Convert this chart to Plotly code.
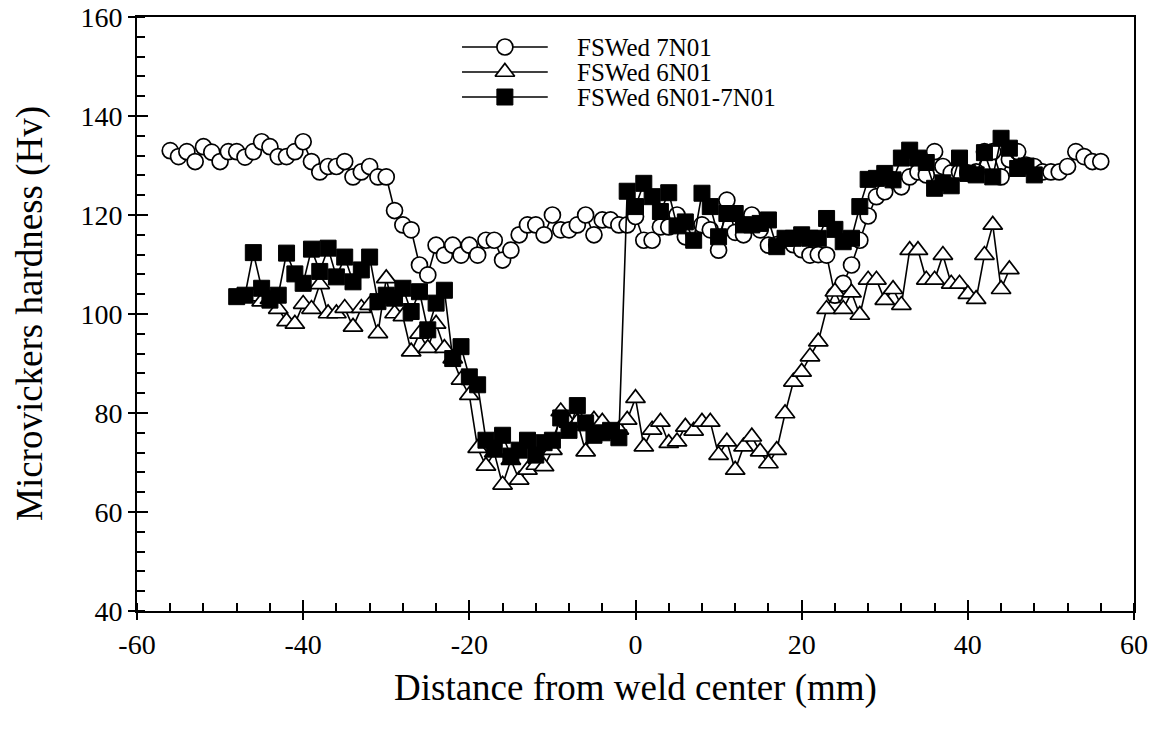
import plotly.graph_objects as go

# Hardness profiles across the weld (distance in mm, hardness in Hv)
x_7n01 = list(range(-56, 57))
hv_7n01 = [
    133.0, 131.8, 132.8, 130.8, 133.8, 132.7, 130.8, 132.8, 132.8, 131.7,
    132.8, 134.8, 133.8, 131.8, 131.8, 132.8, 134.8, 130.8, 128.7, 129.8,
    129.8, 130.8, 127.7, 128.7, 129.8, 127.7, 127.7, 120.9, 118.0, 117.0,
    109.9, 107.9, 113.9, 111.9, 113.9, 111.9, 113.9, 111.9, 114.9, 114.9,
    110.9, 112.9, 116.0, 118.0, 118.0, 116.0, 120.0, 117.0, 117.0, 118.0,
    120.0, 116.0, 119.0, 119.0, 118.0, 118.0, 119.7, 114.9, 114.9, 117.6,
    117.6, 120.0, 115.6, 116.5, 118.0, 117.0, 112.9, 123.0, 116.5, 116.0,
    120.0, 117.0, 113.9, 114.0, 115.0, 114.0, 113.0, 111.9, 112.0, 111.9,
    103.8, 106.2, 109.9, 114.9, 119.8, 123.7, 124.7, 127.1, 125.7, 127.7,
    128.7, 128.1, 132.8, 129.8, 128.5, 128.7, 128.5, 128.7, 132.8, 132.8,
    127.7, 131.2, 132.8, 130.1, 129.8, 128.7, 128.7, 128.7, 129.8, 132.8,
    131.8, 130.8, 130.8,
]

x_6n01 = list(range(-46, 46))
hv_6n01 = [
    103.5, 102.5, 103.0, 101.0, 98.5, 98.0, 102.0, 101.0, 106.0, 100.1,
    100.1, 101.2, 97.4, 101.2, 101.8, 96.1, 107.2, 100.1, 99.5, 92.4,
    96.0, 93.1, 98.0, 93.1, 91.0, 86.7, 83.6, 72.9, 69.3, 72.0,
    65.5, 70.5, 66.5, 68.5, 69.5, 69.2, 72.5, 80.3, 78.0, 78.2,
    72.2, 78.6, 78.2, 76.0, 76.6, 78.6, 83.0, 73.2, 76.6, 78.2,
    73.9, 74.2, 77.2, 76.4, 78.2, 78.2, 71.5, 74.2, 68.5, 73.2,
    75.2, 72.2, 69.8, 72.5, 79.9, 86.3, 88.3, 91.4, 94.4, 101.0,
    104.5, 101.0, 104.3, 99.8, 106.9, 106.9, 102.8, 105.0, 101.8, 112.9,
    112.9, 106.9, 106.9, 111.9, 106.1, 106.1, 104.0, 103.0, 111.9, 118.0,
    105.0, 109.0,
]

x_dissimilar = list(range(-48, 49))
hv_dissimilar = [
    103.5, 103.8, 112.4, 105.2, 102.8, 103.8, 112.3, 108.1, 106.2, 113.1,
    108.6, 113.3, 107.5, 111.5, 106.5, 108.9, 111.5, 102.5, 103.8, 103.2,
    105.2, 100.5, 104.5, 96.8, 102.2, 104.8, 91.0, 93.4, 87.3, 85.7,
    74.5, 72.9, 75.5, 71.3, 72.5, 74.5, 71.5, 74.0, 74.5, 79.0,
    76.5, 81.5, 78.0, 75.5, 76.0, 76.5, 75.0, 124.8, 121.7, 126.4,
    123.7, 120.7, 124.5, 117.8, 118.6, 114.9, 124.4, 121.7, 115.6, 120.3,
    120.3, 118.0, 118.0, 118.3, 119.0, 113.6, 115.3, 115.3, 116.0, 115.3,
    115.3, 119.3, 117.1, 114.6, 115.3, 121.7, 127.2, 127.4, 128.4, 127.1,
    131.5, 133.1, 131.5, 130.6, 125.4, 126.5, 125.9, 131.5, 128.4, 128.1,
    132.6, 127.7, 135.5, 133.5, 129.4, 129.9, 128.1,
]

series_names = ["FSWed 7N01", "FSWed 6N01", "FSWed 6N01-7N01"]
x_ticks = [-60, -40, -20, 0, 20, 40, 60]
y_ticks = [40, 60, 80, 100, 120, 140, 160]

FONT = "Liberation Serif, Times New Roman, serif"
LINE = dict(color="black", width=1.6)
styles = [
    dict(symbol="circle", size=16, color="white", line=dict(color="black", width=1.7)),
    dict(symbol="triangle-up", size=17, color="white", line=dict(color="black", width=1.7)),
    dict(symbol="square", size=16, color="black", line=dict(color="black", width=1)),
]

fig = go.Figure()
for xs, ys, name, mk in zip(
    [x_7n01, x_6n01, x_dissimilar],
    [hv_7n01, hv_6n01, hv_dissimilar],
    series_names,
    styles,
):
    fig.add_trace(go.Scatter(x=xs, y=ys, mode="lines+markers", name=name,
                             line=LINE, marker=mk, showlegend=False))

# Hand-drawn legend on an overlay axis spanning the plot area (0..1)
leg_rows = [0.9495, 0.9074, 0.8653]
for row, name, mk in zip(leg_rows, series_names, styles):
    fig.add_trace(go.Scatter(x=[0.326, 0.412], y=[row, row], mode="lines",
                             line=LINE, xaxis="x2", yaxis="y2",
                             showlegend=False, hoverinfo="skip"))
    fig.add_trace(go.Scatter(x=[0.369], y=[row], mode="markers", marker=mk,
                             xaxis="x2", yaxis="y2", showlegend=False,
                             hoverinfo="skip"))
    fig.add_annotation(x=0.439, y=row, xref="x2", yref="y2", text=name,
                       showarrow=False, xanchor="left", yanchor="middle",
                       font=dict(family=FONT, size=25, color="black"))

# Axis titles
fig.add_annotation(x=0.4995, y=-0.1296, xref="paper", yref="paper",
                   text="Distance from weld center (mm)", showarrow=False,
                   xanchor="center", yanchor="middle",
                   font=dict(family=FONT, size=37, color="black"))
fig.add_annotation(x=-0.1073, y=0.5, xref="paper", yref="paper",
                   text="Microvickers hardness (Hv)", showarrow=False,
                   textangle=-90, xanchor="center", yanchor="middle",
                   font=dict(family=FONT, size=37, color="black"))

axis_common = dict(
    showgrid=False, zeroline=False, showline=True, linecolor="black",
    linewidth=1.8, mirror=True, ticks="outside", ticklen=7, tickwidth=1.5,
    tickcolor="black", automargin=False,
    tickfont=dict(family=FONT, size=28, color="black"),
)

fig.update_layout(
    width=1161, height=729,
    margin=dict(l=137, r=27, t=17, b=118),
    paper_bgcolor="white", plot_bgcolor="white",
    xaxis=dict(
        range=[-60, 60], tickvals=x_ticks, ticktext=[str(v) for v in x_ticks],
        minor=dict(dtick=4, ticks="inside", ticklen=8, tickwidth=1.5,
                   tickcolor="black"),
        **axis_common,
    ),
    yaxis=dict(
        range=[40, 160], tickvals=y_ticks, ticktext=[str(v) for v in y_ticks],
        minor=dict(dtick=4, ticks="inside", ticklen=8, tickwidth=1.5,
                   tickcolor="black"),
        **axis_common,
    ),
    # inner halves of the major ticks
    xaxis3=dict(overlaying="x", matches="x", range=[-60, 60], tickvals=x_ticks,
                ticks="inside", ticklen=11, tickwidth=1.5, tickcolor="black",
                showticklabels=False, showgrid=False, zeroline=False,
                showline=False, side="bottom", automargin=False),
    yaxis3=dict(overlaying="y", matches="y", range=[40, 160], tickvals=y_ticks,
                ticks="inside", ticklen=11, tickwidth=1.5, tickcolor="black",
                showticklabels=False, showgrid=False, zeroline=False,
                showline=False, side="left", automargin=False),
    xaxis2=dict(overlaying="x", range=[0, 1], visible=False, automargin=False),
    yaxis2=dict(overlaying="y", range=[0, 1], visible=False, automargin=False),
)

# invisible point so the tick-only axes are rendered
fig.add_trace(go.Scatter(x=[0], y=[100], xaxis="x3", yaxis="y3", mode="markers",
                         marker=dict(opacity=0), showlegend=False,
                         hoverinfo="skip"))

fig.write_html("out.html")
